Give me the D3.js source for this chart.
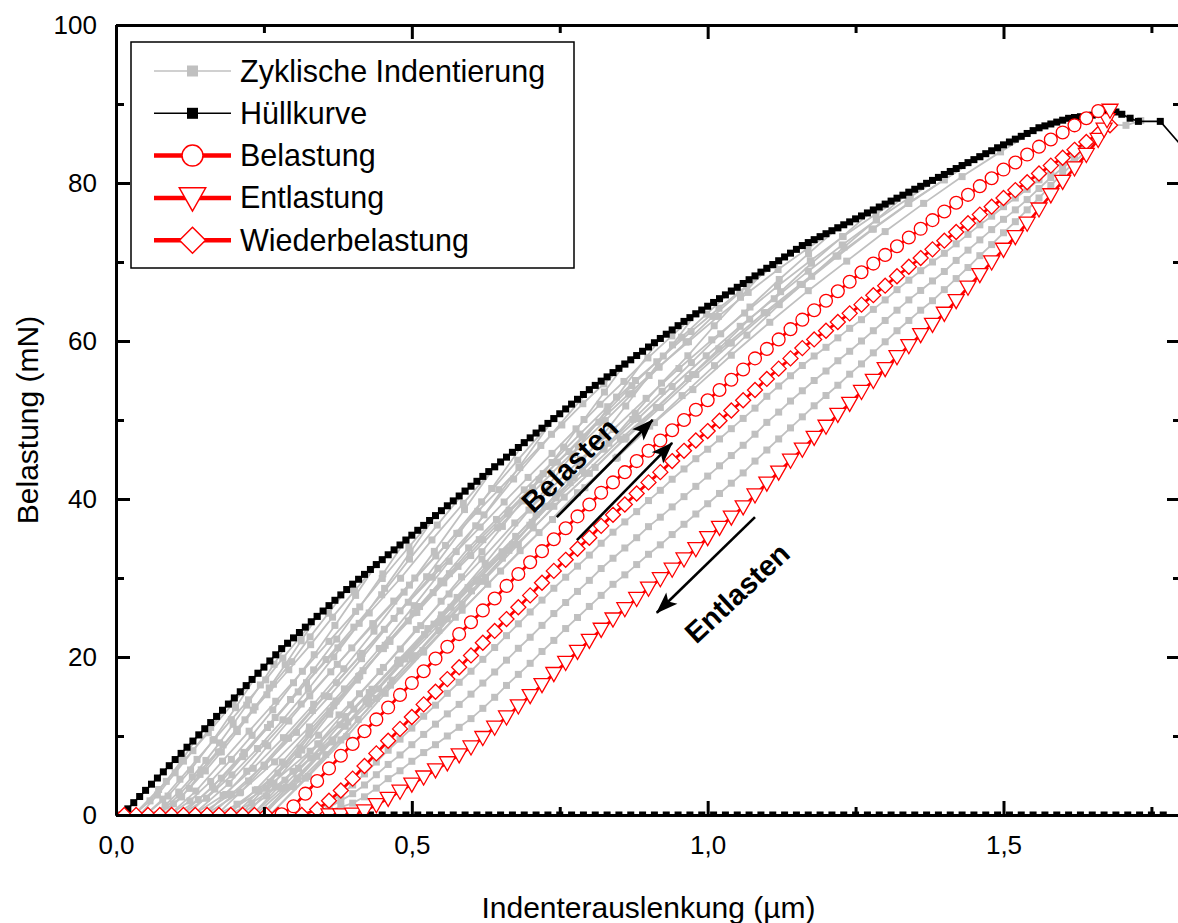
<!DOCTYPE html>
<html><head><meta charset="utf-8">
<script src="https://cdn.jsdelivr.net/npm/d3@7"></script>
<style>body{margin:0;background:#fff}svg{display:block}text{font-family:"Liberation Sans",Arial,sans-serif}</style>
</head><body><svg id="c" width="1178" height="923"></svg>
<script>
// ---------- axis ticks ----------
const xTicks = [0, 0.5, 1.0, 1.5];
const xTickLabels = ["0,0", "0,5", "1,0", "1,5"];
const xMinor = [0.25, 0.75, 1.25, 1.75];
const yTicks = [0, 20, 40, 60, 80, 100];
const yMinor = [10, 30, 50, 70, 90];
const xTitle = "Indenterauslenkung (µm)";
const yTitle = "Belastung (mN)";

// ---------- Hüllkurve (envelope) ----------
const envelope = [[0.01,0],[0.02,0.78],[0.03,1.56],[0.04,2.34],[0.05,3.12],[0.06,3.90],[0.07,4.68],[0.08,5.46],[0.09,6.24],[0.10,7.02],
[0.11,7.80],[0.12,8.58],[0.13,9.36],[0.14,10.14],[0.15,10.92],[0.16,11.70],[0.17,12.48],[0.18,13.26],[0.19,14.04],[0.20,14.82],
[0.21,15.60],[0.22,16.38],[0.23,17.16],[0.24,17.94],[0.25,18.72],[0.26,19.50],[0.27,20.28],[0.28,21.06],[0.29,21.74],[0.30,22.42],
[0.31,23.10],[0.32,23.78],[0.33,24.46],[0.34,25.14],[0.35,25.82],[0.36,26.50],[0.37,27.18],[0.38,27.86],[0.39,28.54],[0.40,29.22],
[0.41,29.84],[0.42,30.46],[0.43,31.08],[0.44,31.70],[0.45,32.32],[0.46,32.94],[0.47,33.56],[0.48,34.18],[0.49,34.80],[0.50,35.42],
[0.51,36.04],[0.52,36.66],[0.53,37.28],[0.54,37.90],[0.55,38.52],[0.56,39.14],[0.57,39.76],[0.58,40.38],[0.59,41.00],[0.60,41.62],
[0.61,42.24],[0.62,42.86],[0.63,43.47],[0.64,44.08],[0.65,44.69],[0.66,45.30],[0.67,45.91],[0.68,46.52],[0.69,47.13],[0.70,47.74],
[0.71,48.35],[0.72,48.96],[0.73,49.57],[0.74,50.18],[0.75,50.79],[0.76,51.40],[0.77,52.01],[0.78,52.62],[0.79,53.23],[0.80,53.84],
[0.81,54.38],[0.82,54.92],[0.83,55.46],[0.84,56.00],[0.85,56.54],[0.86,57.08],[0.87,57.62],[0.88,58.16],[0.89,58.70],[0.90,59.24],
[0.91,59.78],[0.92,60.32],[0.93,60.86],[0.94,61.40],[0.95,61.94],[0.96,62.48],[0.97,62.96],[0.98,63.44],[0.99,63.92],[1.00,64.40],
[1.01,64.88],[1.02,65.36],[1.03,65.84],[1.04,66.32],[1.05,66.80],[1.06,67.28],[1.07,67.76],[1.08,68.24],[1.09,68.72],[1.10,69.20],
[1.11,69.68],[1.12,70.16],[1.13,70.64],[1.14,71.12],[1.15,71.60],[1.16,72.08],[1.17,72.46],[1.18,72.83],[1.19,73.21],[1.20,73.58],
[1.21,73.96],[1.22,74.33],[1.23,74.71],[1.24,75.08],[1.25,75.46],[1.26,75.83],[1.27,76.21],[1.28,76.58],[1.29,76.96],[1.30,77.33],
[1.31,77.71],[1.32,78.08],[1.33,78.46],[1.34,78.83],[1.35,79.21],[1.36,79.58],[1.37,79.96],[1.38,80.33],[1.39,80.71],[1.40,81.08],
[1.41,81.46],[1.42,81.83],[1.43,82.21],[1.44,82.58],[1.45,82.96],[1.46,83.33],[1.47,83.71],[1.48,84.08],[1.49,84.46],[1.50,84.83],
[1.51,85.19],[1.52,85.55],[1.53,85.91],[1.54,86.27],[1.55,86.63],[1.56,86.99],[1.57,87.23],[1.58,87.47],[1.59,87.71],[1.60,87.95],
[1.61,88.19],[1.62,88.29],[1.63,88.39],[1.64,88.49],[1.65,88.59],[1.66,88.69],[1.67,88.79],[1.68,88.89],[1.69,88.99],
[1.70,88.7],[1.714,88.2],[1.728,87.8],[1.765,87.8],[1.86,79.6]];
// envelope points lying on the depth axis (load ~ 0)
const envelopeBaseX = [0.43,0.45,0.47,0.49,0.51,0.53,0.55,0.57,0.59,0.61,0.63,0.65,0.67,0.69,0.71,0.73,0.75,0.77,0.79,0.81,
0.83,0.85,0.87,0.89,0.91,0.93,0.95,0.97,0.99,1.01,1.03,1.05,1.07,1.09,1.11,1.13,1.15,1.17,1.19,1.21,
1.23,1.25,1.27,1.29,1.31,1.33,1.35,1.37,1.39,1.41,1.43,1.45,1.47,1.49,1.51,1.53,1.55,1.57,1.59,1.61,
1.63,1.65,1.67,1.69,1.71,1.73,1.75,1.77];

// ---------- Belastung (circles) ----------
const belastung = [[0.28,0.1],[0.30,1.1],[0.32,2.7],[0.34,4.3],[0.36,5.9],[0.38,7.5],[0.40,9.0],[0.42,10.6],[0.44,12.1],[0.46,13.6],
[0.48,15.2],[0.50,16.7],[0.52,18.2],[0.54,19.8],[0.56,21.3],[0.58,22.9],[0.60,24.4],[0.62,25.9],[0.64,27.4],[0.66,29.0],
[0.68,30.5],[0.70,32.0],[0.72,33.4],[0.74,34.9],[0.76,36.3],[0.78,37.8],[0.80,39.3],[0.82,40.8],[0.84,42.1],[0.86,43.4],
[0.88,44.8],[0.90,46.1],[0.92,47.4],[0.94,48.7],[0.96,50.0],[0.98,51.3],[1.00,52.5],[1.02,53.8],[1.04,55.1],[1.06,56.4],
[1.08,57.8],[1.10,59.0],[1.12,60.2],[1.14,61.5],[1.16,62.7],[1.18,63.9],[1.20,65.1],[1.22,66.3],[1.24,67.5],[1.26,68.7],
[1.28,69.8],[1.30,70.9],[1.32,72.0],[1.34,73.1],[1.36,74.2],[1.38,75.3],[1.40,76.4],[1.42,77.5],[1.44,78.5],[1.46,79.6],
[1.48,80.6],[1.50,81.7],[1.52,82.6],[1.54,83.6],[1.56,84.6],[1.58,85.5],[1.60,86.4],[1.62,87.3],[1.64,88.2],[1.66,89.1]];

// ---------- Entlastung (down triangles) ----------
const entlastung = [[0.36,0],[0.38,0],[0.40,0.1],[0.42,0.5],[0.44,1.3],[0.46,2.1],[0.48,3.0],[0.50,3.9],[0.52,4.8],[0.54,5.7],
[0.56,6.6],[0.58,7.6],[0.60,8.6],[0.62,9.8],[0.64,11.1],[0.66,12.4],[0.68,13.8],[0.70,15.1],[0.72,16.5],[0.74,17.9],
[0.76,19.3],[0.78,20.7],[0.80,22.1],[0.82,23.5],[0.84,24.8],[0.86,26.1],[0.88,27.4],[0.90,28.7],[0.92,29.9],[0.94,31.1],
[0.96,32.4],[0.98,33.7],[1.00,35.1],[1.02,36.4],[1.04,37.7],[1.06,39.0],[1.08,40.5],[1.10,42.0],[1.12,43.4],[1.14,44.9],
[1.16,46.3],[1.18,47.8],[1.20,49.2],[1.22,50.7],[1.24,52.1],[1.26,53.6],[1.28,55.0],[1.30,56.5],[1.32,58.0],[1.34,59.4],
[1.36,60.8],[1.38,62.1],[1.40,63.5],[1.42,65.1],[1.44,66.8],[1.46,68.4],[1.48,70.0],[1.50,71.6],[1.52,73.2],[1.54,74.9],
[1.56,76.7],[1.58,78.5],[1.60,80.2],[1.62,81.9],[1.64,83.6],[1.66,85.5],[1.67,86.8],[1.675,88.0],[1.68,89.2]];

// ---------- Wiederbelastung (diamonds) ----------
const wiederbelastung = [[0.014,0],[0.034,0],[0.054,0],[0.074,0],[0.094,0],[0.114,0],[0.134,0],[0.154,0],[0.174,0],[0.194,0],
[0.214,0],[0.234,0],[0.254,0],[0.274,0],[0.294,0],[0.314,0],
[0.34,0.7],[0.36,1.8],[0.38,3.1],[0.40,4.6],[0.42,6.2],[0.44,7.8],[0.46,9.4],[0.48,10.9],[0.50,12.4],[0.52,14.0],
[0.54,15.6],[0.56,17.2],[0.58,18.7],[0.60,20.2],[0.62,21.8],[0.64,23.3],[0.66,24.8],[0.68,26.3],[0.70,27.8],[0.72,29.4],
[0.74,30.9],[0.76,32.3],[0.78,33.7],[0.80,35.1],[0.82,36.6],[0.84,38.0],[0.86,39.3],[0.88,40.7],[0.90,42.1],[0.92,43.4],
[0.94,44.8],[0.96,46.1],[0.98,47.4],[1.00,48.6],[1.02,49.9],[1.04,51.2],[1.06,52.5],[1.08,53.8],[1.10,55.2],[1.12,56.5],
[1.14,57.8],[1.16,59.1],[1.18,60.2],[1.20,61.3],[1.22,62.4],[1.24,63.5],[1.26,64.6],[1.28,65.8],[1.30,67.0],[1.32,68.2],
[1.34,69.4],[1.36,70.5],[1.38,71.6],[1.40,72.7],[1.42,73.8],[1.44,74.9],[1.46,76.0],[1.48,77.0],[1.50,78.1],[1.52,79.1],
[1.54,80.1],[1.56,81.2],[1.58,82.2],[1.60,83.2],[1.62,84.2],[1.64,85.2],[1.66,86.2],[1.68,87.3]];

// ---------- Zyklische Indentierung (grey cycles) ----------
const cyclic = [
[[0.03,0],[0.0575,1.79],[0.085,4.26],[0.1125,7.08],[0.14,10.14]],
[[0.03,0],[0.072,3.23],[0.114,6.82],[0.156,10.41],[0.198,14.17],[0.24,17.94]],
[[0.04,0],[0.07,2.53],[0.10,5.34],[0.13,8.14],[0.16,11.09],[0.19,14.04]],
[[0.05,0],[0.088,2.40],[0.126,5.70],[0.164,9.47],[0.202,13.58],[0.24,17.94]],
[[0.05,0],[0.079,2.01],[0.108,4.53],[0.137,7.04],[0.166,9.55],[0.195,12.07],[0.224,14.58],[0.253,17.10],[0.282,19.86],[0.311,22.50],[0.34,25.14]],
[[0.06,0],[0.083,1.22],[0.106,2.91],[0.129,4.83],[0.152,6.91],[0.175,9.13],[0.198,11.48],[0.221,13.91],[0.244,16.46],[0.267,19.07],[0.29,21.74]],
[[0.07,0],[0.097,1.41],[0.124,3.37],[0.151,5.58],[0.178,7.99],[0.205,10.56],[0.232,13.27],[0.259,16.09],[0.286,19.03],[0.313,22.05],[0.34,25.14]],
[[0.07,0],[0.107,2.54],[0.144,5.71],[0.181,8.88],[0.218,12.05],[0.255,15.22],[0.292,18.39],[0.329,21.56],[0.366,25.04],[0.403,28.37],[0.44,31.70]],
[[0.08,0],[0.111,2.28],[0.142,5.14],[0.173,7.99],[0.204,10.85],[0.235,13.70],[0.266,16.55],[0.297,19.41],[0.328,22.55],[0.359,25.54],[0.39,28.54]],
[[0.09,0],[0.125,1.78],[0.16,4.25],[0.195,7.04],[0.23,10.08],[0.265,13.31],[0.30,16.74],[0.335,20.29],[0.37,24.00],[0.405,27.80],[0.44,31.70]],
[[0.09,0],[0.135,3.03],[0.18,6.82],[0.225,10.61],[0.27,14.40],[0.315,18.19],[0.36,21.98],[0.405,25.77],[0.45,29.94],[0.495,33.92],[0.54,37.90]],
[[0.10,0],[0.139,1.95],[0.178,4.66],[0.217,7.73],[0.256,11.07],[0.295,14.62],[0.334,18.37],[0.373,22.27],[0.412,26.34],[0.451,30.52],[0.49,34.80]],
[[0.11,0],[0.153,2.12],[0.196,5.08],[0.239,8.41],[0.282,12.05],[0.325,15.92],[0.368,20.01],[0.411,24.26],[0.454,28.69],[0.497,33.24],[0.54,37.90]],
[[0.11,0],[0.163,3.53],[0.216,7.93],[0.269,12.34],[0.322,16.75],[0.375,21.16],[0.428,25.57],[0.481,29.97],[0.534,34.82],[0.587,39.45],[0.64,44.08]],
[[0.12,0],[0.167,3.28],[0.214,7.38],[0.261,11.48],[0.308,15.58],[0.355,19.68],[0.402,23.78],[0.449,27.88],[0.496,32.39],[0.543,36.70],[0.59,41.00]],
[[0.13,0],[0.181,2.47],[0.232,5.91],[0.283,9.79],[0.334,14.02],[0.385,18.51],[0.436,23.27],[0.487,28.21],[0.538,33.37],[0.589,38.66],[0.64,44.08]],
[[0.13,0],[0.191,4.01],[0.252,9.03],[0.313,14.05],[0.374,19.07],[0.435,24.09],[0.496,29.10],[0.557,34.12],[0.618,39.64],[0.679,44.91],[0.74,50.18]],
[[0.14,0],[0.195,2.64],[0.25,6.32],[0.305,10.46],[0.36,14.99],[0.415,19.79],[0.47,24.88],[0.525,30.16],[0.58,35.68],[0.635,41.33],[0.69,47.13]],
[[0.15,0],[0.209,2.81],[0.268,6.72],[0.327,11.14],[0.386,15.96],[0.445,21.08],[0.504,26.50],[0.563,32.12],[0.622,37.99],[0.681,44.01],[0.74,50.18]],
[[0.15,0],[0.1855,2.60],[0.221,5.54],[0.2565,8.76],[0.292,11.90],[0.3275,15.07],[0.363,18.12],[0.3985,21.15],[0.434,24.23],[0.4695,27.08],[0.505,30.00],[0.5405,32.79],[0.576,35.65],[0.6115,38.44],[0.647,41.18],[0.6825,43.98],[0.718,46.78],[0.7535,49.37],[0.789,52.06],[0.8245,54.57],[0.86,57.08]],
[[0.16,0],[0.224,4.31],[0.288,9.69],[0.352,15.08],[0.416,20.46],[0.48,25.84],[0.544,31.23],[0.608,36.61],[0.672,42.53],[0.736,48.19],[0.80,53.84]],
[[0.17,0],[0.2045,1.37],[0.239,3.20],[0.2735,5.31],[0.308,7.65],[0.3425,10.10],[0.377,12.67],[0.4115,15.35],[0.446,18.15],[0.4805,21.01],[0.515,23.97],[0.5495,27.06],[0.584,30.14],[0.6185,33.33],[0.653,36.53],[0.6875,39.84],[0.722,43.21],[0.7565,46.58],[0.791,50.06],[0.8255,53.54],[0.86,57.08]],
[[0.17,0],[0.2105,2.89],[0.251,6.15],[0.2915,9.74],[0.332,13.23],[0.3725,16.75],[0.413,20.14],[0.4535,23.50],[0.494,26.93],[0.5345,30.10],[0.575,33.34],[0.6155,36.45],[0.656,39.62],[0.6965,42.73],[0.737,45.77],[0.7775,48.88],[0.818,51.99],[0.8585,54.88],[0.899,57.86],[0.9395,60.65],[0.98,63.44]],
[[0.18,0],[0.254,3.38],[0.328,8.08],[0.402,13.39],[0.476,19.18],[0.55,25.33],[0.624,31.85],[0.698,38.60],[0.772,45.66],[0.846,52.90],[0.92,60.32]],
[[0.19,0],[0.2295,1.52],[0.269,3.55],[0.3085,5.90],[0.348,8.50],[0.3875,11.23],[0.427,14.08],[0.4665,17.07],[0.506,20.17],[0.5455,23.35],[0.585,26.64],[0.6245,30.07],[0.664,33.50],[0.7035,37.05],[0.743,40.60],[0.7825,44.28],[0.822,48.02],[0.8615,51.77],[0.901,55.64],[0.9405,59.51],[0.98,63.44]],
[[0.19,0],[0.2355,3.15],[0.281,6.71],[0.3265,10.62],[0.372,14.43],[0.4175,18.27],[0.463,21.97],[0.5085,25.64],[0.554,29.38],[0.5995,32.84],[0.645,36.36],[0.6905,39.76],[0.736,43.22],[0.7815,46.61],[0.827,49.93],[0.8725,53.32],[0.918,56.71],[0.9635,59.86],[1.009,63.11],[1.0545,66.16],[1.10,69.20]],
[[0.20,0],[0.242,3.02],[0.284,6.43],[0.326,10.18],[0.368,13.83],[0.41,17.51],[0.452,21.06],[0.494,24.57],[0.536,28.15],[0.578,31.47],[0.62,34.85],[0.662,38.10],[0.704,41.42],[0.746,44.67],[0.788,47.85],[0.83,51.10],[0.872,54.35],[0.914,57.37],[0.956,60.48],[0.998,63.40],[1.04,66.32]],
[[0.21,0],[0.2545,2.42],[0.299,5.54],[0.3435,9.00],[0.388,12.46],[0.4325,15.92],[0.477,19.38],[0.5215,22.84],[0.566,26.30],[0.6105,29.76],[0.655,33.22],[0.6995,36.68],[0.744,40.14],[0.7885,43.60],[0.833,47.06],[0.8775,50.86],[0.922,54.67],[0.9665,58.13],[1.011,61.93],[1.0555,65.53],[1.10,69.20]],
[[0.21,0],[0.2605,4.16],[0.311,8.47],[0.3615,13.16],[0.412,17.62],[0.4625,22.15],[0.513,26.39],[0.5635,30.55],[0.614,34.86],[0.6645,38.58],[0.715,42.44],[0.7655,46.01],[0.816,49.73],[0.8665,53.29],[0.917,56.71],[0.9675,59.91],[1.018,63.11],[1.0685,66.15],[1.119,69.05],[1.1695,71.73],[1.22,74.33]],
[[0.22,0],[0.267,4.04],[0.314,8.22],[0.361,12.76],[0.408,17.08],[0.455,21.48],[0.502,25.59],[0.549,29.62],[0.596,33.81],[0.643,37.41],[0.69,41.16],[0.737,44.62],[0.784,48.22],[0.831,51.68],[0.878,55.00],[0.925,58.10],[0.972,61.20],[1.019,64.15],[1.066,66.96],[1.113,69.56],[1.16,72.08]],
[[0.23,0],[0.2795,3.38],[0.329,7.21],[0.3785,11.41],[0.428,15.50],[0.4775,19.62],[0.527,23.60],[0.5765,27.54],[0.626,31.55],[0.6755,35.27],[0.725,39.06],[0.7745,42.70],[0.824,46.42],[0.8735,50.06],[0.923,53.63],[0.9725,57.27],[1.022,60.91],[1.0715,64.30],[1.121,67.79],[1.1705,71.06],[1.22,74.33]],
[[0.23,0],[0.2855,4.41],[0.341,8.99],[0.3965,13.95],[0.452,18.68],[0.5075,23.49],[0.563,27.98],[0.6185,32.40],[0.674,36.97],[0.7295,40.91],[0.785,45.01],[0.8405,48.80],[0.896,52.74],[0.9515,56.52],[1.007,60.15],[1.0625,63.54],[1.118,66.93],[1.1735,70.16],[1.229,73.23],[1.2845,76.07],[1.34,78.83]],
[[0.235,0],[0.2873,3.48],[0.3395,7.43],[0.3918,11.76],[0.444,15.97],[0.4963,20.22],[0.5485,24.31],[0.6008,28.37],[0.653,32.51],[0.7053,36.34],[0.7575,40.24],[0.8098,44.00],[0.862,47.82],[0.9143,51.58],[0.9665,55.25],[1.0188,59.01],[1.071,62.76],[1.1233,66.24],[1.1755,69.84],[1.2278,73.21],[1.28,76.58]],
[[0.245,0],[0.2998,3.59],[0.3545,7.65],[0.4093,12.10],[0.464,16.44],[0.5188,20.81],[0.5735,25.03],[0.6283,29.21],[0.683,33.46],[0.7378,37.40],[0.7925,41.43],[0.8473,45.29],[0.902,49.23],[0.9568,53.09],[1.0115,56.88],[1.0663,60.74],[1.121,64.60],[1.1758,68.19],[1.2305,71.89],[1.2853,75.36],[1.34,78.83]],
[[0.245,0],[0.3058,4.67],[0.3665,9.50],[0.4273,14.75],[0.488,19.75],[0.5488,24.83],[0.6095,29.58],[0.6703,34.25],[0.731,39.08],[0.7918,43.25],[0.8525,47.58],[0.9133,51.58],[0.974,55.75],[1.0348,59.75],[1.0955,63.58],[1.1563,67.16],[1.217,70.75],[1.2778,74.16],[1.3385,77.41],[1.3993,80.41],[1.46,83.33]],
[[0.25,0],[0.3075,4.54],[0.365,9.24],[0.4225,14.35],[0.48,19.22],[0.5375,24.16],[0.595,28.78],[0.6525,33.32],[0.71,38.03],[0.7675,42.08],[0.825,46.30],[0.8825,50.19],[0.94,54.24],[0.9975,58.13],[1.055,61.86],[1.1125,65.35],[1.17,68.84],[1.2275,72.16],[1.285,75.32],[1.3425,78.24],[1.40,81.08]],
[[0.26,0],[0.32,4.67],[0.38,9.50],[0.44,14.75],[0.50,19.75],[0.56,24.83],[0.62,29.58],[0.68,34.25],[0.74,39.08],[0.80,43.25],[0.86,47.58],[0.92,51.58],[0.98,55.75],[1.04,59.75],[1.10,63.58],[1.16,67.16],[1.22,70.75],[1.28,74.16],[1.34,77.41],[1.40,80.41],[1.46,83.33]],
[[0.26,0],[0.325,4.87],[0.39,9.92],[0.455,15.40],[0.52,20.62],[0.585,25.92],[0.65,30.88],[0.715,35.75],[0.78,40.80],[0.845,45.15],[0.91,49.67],[0.975,53.85],[1.04,58.20],[1.105,62.37],[1.17,66.37],[1.235,70.11],[1.30,73.85],[1.365,77.42],[1.43,80.81],[1.495,83.94],[1.56,86.99]],
[[0.34,0.6],[0.36,1.5],[0.38,2.6],[0.40,3.8],[0.42,5.2],[0.44,6.7],[0.46,8.2],[0.48,9.6],[0.50,11.0],[0.52,12.5],[0.54,13.9],[0.56,15.4],[0.58,16.8],[0.60,18.2],[0.62,19.7],[0.64,21.2],[0.66,22.7],[0.68,24.2],[0.70,25.7],[0.72,27.2],[0.74,28.7],[0.76,30.1],[0.78,31.5],[0.80,32.9],[0.82,34.4],[0.84,35.8],[0.86,37.1],[0.88,38.4],[0.90,39.8],[0.92,41.1],[0.94,42.5],[0.96,43.8],[0.98,45.1],[1.00,46.3],[1.02,47.6],[1.04,48.9],[1.06,50.2],[1.08,51.5],[1.10,53.0],[1.12,54.3],[1.14,55.6],[1.16,56.9],[1.18,58.1],[1.20,59.2],[1.22,60.4],[1.24,61.6],[1.26,62.7],[1.28,64.0],[1.30,65.2],[1.32,66.5],[1.34,67.7],[1.36,68.9],[1.38,70.0],[1.40,71.1],[1.42,72.3],[1.44,73.5],[1.46,74.7],[1.48,75.8],[1.50,77.0],[1.52,78.1],[1.54,79.2],[1.56,80.4],[1.58,81.6],[1.60,82.7],[1.62,83.8],[1.64,84.9],[1.66,86.1],[1.68,87.4]],
[[0.34,0.4],[0.36,1.0],[0.38,1.8],[0.40,2.7],[0.42,3.8],[0.44,5.1],[0.46,6.4],[0.48,7.6],[0.50,8.9],[0.52,10.2],[0.54,11.5],[0.56,12.8],[0.58,14.0],[0.60,15.3],[0.62,16.7],[0.64,18.1],[0.66,19.6],[0.68,21.1],[0.70,22.5],[0.72,24.0],[0.74,25.5],[0.76,26.9],[0.78,28.3],[0.80,29.7],[0.82,31.2],[0.84,32.5],[0.86,33.8],[0.88,35.1],[0.90,36.5],[0.92,37.7],[0.94,39.0],[0.96,40.3],[0.98,41.6],[1.00,42.9],[1.02,44.2],[1.04,45.5],[1.06,46.8],[1.08,48.2],[1.10,49.7],[1.12,51.0],[1.14,52.4],[1.16,53.7],[1.18,55.0],[1.20,56.2],[1.22,57.5],[1.24,58.7],[1.26,60.0],[1.28,61.3],[1.30,62.6],[1.32,63.9],[1.34,65.2],[1.36,66.4],[1.38,67.6],[1.40,68.8],[1.42,70.2],[1.44,71.5],[1.46,72.8],[1.48,74.1],[1.50,75.4],[1.52,76.6],[1.54,77.9],[1.56,79.3],[1.58,80.7],[1.60,81.9],[1.62,83.2],[1.64,84.5],[1.66,85.9],[1.68,87.4]],
[[0.34,0.2],[0.36,0.6],[0.38,1.0],[0.40,1.5],[0.42,2.3],[0.44,3.4],[0.46,4.6],[0.48,5.6],[0.50,6.8],[0.52,7.9],[0.54,8.9],[0.56,10.0],[0.58,11.1],[0.60,12.2],[0.62,13.5],[0.64,14.9],[0.66,16.4],[0.68,17.8],[0.70,19.2],[0.72,20.7],[0.74,22.1],[0.76,23.6],[0.78,25.0],[0.80,26.4],[0.82,27.8],[0.84,29.2],[0.86,30.4],[0.88,31.7],[0.90,33.0],[0.92,34.2],[0.94,35.5],[0.96,36.8],[0.98,38.1],[1.00,39.4],[1.02,40.7],[1.04,42.0],[1.06,43.3],[1.08,44.8],[1.10,46.2],[1.12,47.6],[1.14,49.0],[1.16,50.4],[1.18,51.8],[1.20,53.1],[1.22,54.4],[1.24,55.8],[1.26,57.1],[1.28,58.5],[1.30,59.9],[1.32,61.3],[1.34,62.6],[1.36,63.9],[1.38,65.1],[1.40,66.5],[1.42,67.9],[1.44,69.3],[1.46,70.8],[1.48,72.2],[1.50,73.7],[1.52,75.1],[1.54,76.6],[1.56,78.1],[1.58,79.7],[1.60,81.2],[1.62,82.6],[1.64,84.1],[1.66,85.7],[1.68,87.4]],
[[1.68,87.4],[1.707,87.3],[1.732,87.9]]
];

// ---------- annotations ----------
const arrows = [[[0.745,37.7],[0.907,50.0]], [[0.779,34.8],[0.940,47.1]], [[1.080,37.7],[0.914,25.6]]];
const notes = [{text:"Belasten", pos:[0.767,44.3], angle:-44}, {text:"Entlasten", pos:[1.050,28.1], angle:-43}];
const legendItems = [
  {label:"Zyklische Indentierung", kind:"grey"},
  {label:"Hüllkurve", kind:"black"},
  {label:"Belastung", kind:"circle"},
  {label:"Entlastung", kind:"tri"},
  {label:"Wiederbelastung", kind:"diamond"}];

// ---------- drawing ----------
const GREY = "#c0c0c0", RED = "#ff0000";
const svg = d3.select("#c");
const x = d3.scaleLinear().domain([0, 1.8]).range([116, 1181]);
const y = d3.scaleLinear().domain([0, 100]).range([815, 25]);
const line = d3.line().x(d => x(d[0])).y(d => y(d[1]));

const defs = svg.append("defs");
defs.append("clipPath").attr("id", "clip").append("rect")
  .attr("x", x(0)).attr("y", y(100)).attr("width", x(1.8) - x(0)).attr("height", y(0) - y(100));
defs.append("marker").attr("id", "ah").attr("viewBox", "-22 -9 24 18")
  .attr("refX", 0).attr("refY", 0).attr("markerWidth", 24).attr("markerHeight", 18)
  .attr("markerUnits", "userSpaceOnUse").attr("orient", "auto")
  .append("path").attr("d", "M1,0 L-21,-8 L-16,0 L-21,8 Z").attr("fill", "#000");

const plot = svg.append("g").attr("clip-path", "url(#clip)");

const triPath = s => `M0,${s*0.55} L${-s*0.55},${-s*0.42} L${s*0.55},${-s*0.42} Z`;
const diaPath = s => `M0,${-s/2} L${s/2},0 L0,${s/2} L${-s/2},0 Z`;

// grey cyclic series
const gGrey = plot.append("g");
cyclic.forEach(c => gGrey.append("path").attr("d", line(c)).attr("fill", "none")
  .attr("stroke", GREY).attr("stroke-width", 1.8));
cyclic.forEach(c => gGrey.selectAll(null).data(c).join("rect")
  .attr("x", d => x(d[0]) - 3.5).attr("y", d => y(d[1]) - 3.5)
  .attr("width", 7).attr("height", 7).attr("fill", GREY));

// envelope
const base = envelopeBaseX.map(v => [v, 0]);
const gEnv = plot.append("g");
gEnv.append("path").attr("d", line(envelope)).attr("fill", "none").attr("stroke", "#000").attr("stroke-width", 1.6);
gEnv.append("path").attr("d", line(base)).attr("fill", "none").attr("stroke", "#000").attr("stroke-width", 1.6);
gEnv.selectAll(null).data(envelope.concat(base)).join("rect")
  .attr("x", d => x(d[0]) - 3.5).attr("y", d => y(d[1]) - 3.5)
  .attr("width", 7).attr("height", 7).attr("fill", "#000");

// red series
function redSeries(data, kind) {
  const g = plot.append("g");
  g.append("path").attr("d", line(data)).attr("fill", "none").attr("stroke", RED).attr("stroke-width", 2.8);
  const sel = g.selectAll(null).data(data);
  if (kind === "circle") {
    sel.join("circle").attr("cx", d => x(d[0])).attr("cy", d => y(d[1])).attr("r", 6.4)
      .attr("fill", "#fff").attr("stroke", RED).attr("stroke-width", 1.3);
  } else {
    const p = kind === "tri" ? triPath(14.5) : diaPath(15);
    sel.join("path").attr("d", p).attr("transform", d => `translate(${x(d[0])},${y(d[1])})`)
      .attr("fill", "#fff").attr("stroke", RED).attr("stroke-width", 1.3);
  }
}
redSeries(wiederbelastung, "diamond");
redSeries(entlastung, "tri");
redSeries(belastung, "circle");

// axes
function styleAxis(g) {
  g.selectAll(".domain").attr("stroke", "#000").attr("stroke-width", 3);
  g.selectAll(".tick line").attr("stroke", "#000").attr("stroke-width", 3);
  g.selectAll("text").attr("font-family", '"Liberation Sans", Arial, sans-serif').attr("font-size", 26).attr("fill", "#000");
  g.attr("font-family", null).attr("font-size", null);
}
const axB = svg.append("g").attr("transform", `translate(0,${y(0)})`)
  .call(d3.axisBottom(x).tickValues(xTicks).tickFormat((d, i) => xTickLabels[i]).tickSize(-14).tickSizeOuter(0).tickPadding(21));
styleAxis(axB);
axB.selectAll("text").attr("dy", "0.71em");
const axBm = svg.append("g").attr("transform", `translate(0,${y(0)})`)
  .call(d3.axisBottom(x).tickValues(xMinor).tickFormat("").tickSize(-8).tickSizeOuter(0));
styleAxis(axBm);
const axT = svg.append("g").attr("transform", `translate(0,${y(100)})`)
  .call(d3.axisTop(x).tickValues(xTicks).tickFormat("").tickSize(-14).tickSizeOuter(0));
styleAxis(axT);
const axTm = svg.append("g").attr("transform", `translate(0,${y(100)})`)
  .call(d3.axisTop(x).tickValues(xMinor).tickFormat("").tickSize(-8).tickSizeOuter(0));
styleAxis(axTm);
const axL = svg.append("g").attr("transform", `translate(${x(0)},0)`)
  .call(d3.axisLeft(y).tickValues(yTicks).tickFormat(d3.format("d")).tickSize(-14).tickSizeOuter(0).tickPadding(19));
styleAxis(axL);
const axLm = svg.append("g").attr("transform", `translate(${x(0)},0)`)
  .call(d3.axisLeft(y).tickValues(yMinor).tickFormat("").tickSize(-8).tickSizeOuter(0));
styleAxis(axLm);
const axR = svg.append("g").attr("transform", `translate(${x(1.8)},0)`)
  .call(d3.axisRight(y).tickValues(yTicks).tickFormat("").tickSize(-14).tickSizeOuter(0));
styleAxis(axR);
const axRm = svg.append("g").attr("transform", `translate(${x(1.8)},0)`)
  .call(d3.axisRight(y).tickValues(yMinor).tickFormat("").tickSize(-8).tickSizeOuter(0));
styleAxis(axRm);

// axis titles
svg.append("text").attr("x", (x(0) + x(1.8)) / 2).attr("y", 918).attr("text-anchor", "middle")
  .attr("font-size", 30).text(xTitle);
svg.append("text").attr("transform", `translate(38,${(y(0) + y(100)) / 2}) rotate(-90)`)
  .attr("text-anchor", "middle").attr("font-size", 30).text(yTitle);

// annotations
arrows.forEach(a => svg.append("line")
  .attr("x1", x(a[0][0])).attr("y1", y(a[0][1])).attr("x2", x(a[1][0])).attr("y2", y(a[1][1]))
  .attr("stroke", "#000").attr("stroke-width", 2.6).attr("marker-end", "url(#ah)"));
notes.forEach(n => svg.append("text")
  .attr("transform", `translate(${x(n.pos[0])},${y(n.pos[1])}) rotate(${n.angle})`)
  .attr("text-anchor", "middle").attr("dominant-baseline", "central")
  .attr("font-size", 29).attr("font-weight", "bold").text(n.text));

// legend
const lg = svg.append("g");
lg.append("rect").attr("x", 131).attr("y", 42).attr("width", 443).attr("height", 226)
  .attr("fill", "#fff").attr("stroke", "#000").attr("stroke-width", 1.5);
legendItems.forEach((it, i) => {
  const cy = 71 + i * 42.3;
  const g = lg.append("g").attr("transform", `translate(0,${cy})`);
  const col = it.kind === "grey" ? GREY : it.kind === "black" ? "#000" : RED;
  const sw = (it.kind === "grey" || it.kind === "black") ? 1.6 : 4.5;
  g.append("line").attr("x1", 154).attr("x2", 231).attr("stroke", col).attr("stroke-width", sw);
  if (it.kind === "grey" || it.kind === "black") {
    g.append("rect").attr("x", 192.5 - 5.5).attr("y", -5.5).attr("width", 11).attr("height", 11).attr("fill", col);
  } else if (it.kind === "circle") {
    g.append("circle").attr("cx", 192.5).attr("cy", 0).attr("r", 10.5).attr("fill", "#fff").attr("stroke", RED).attr("stroke-width", 1.5);
  } else {
    g.append("path").attr("d", it.kind === "tri" ? triPath(24) : diaPath(26))
      .attr("transform", "translate(192.5,0)").attr("fill", "#fff").attr("stroke", RED).attr("stroke-width", 1.5);
  }
  g.append("text").attr("x", 240).attr("y", 10.5).attr("font-size", 30.5).text(it.label);
});
</script>
</body></html>
